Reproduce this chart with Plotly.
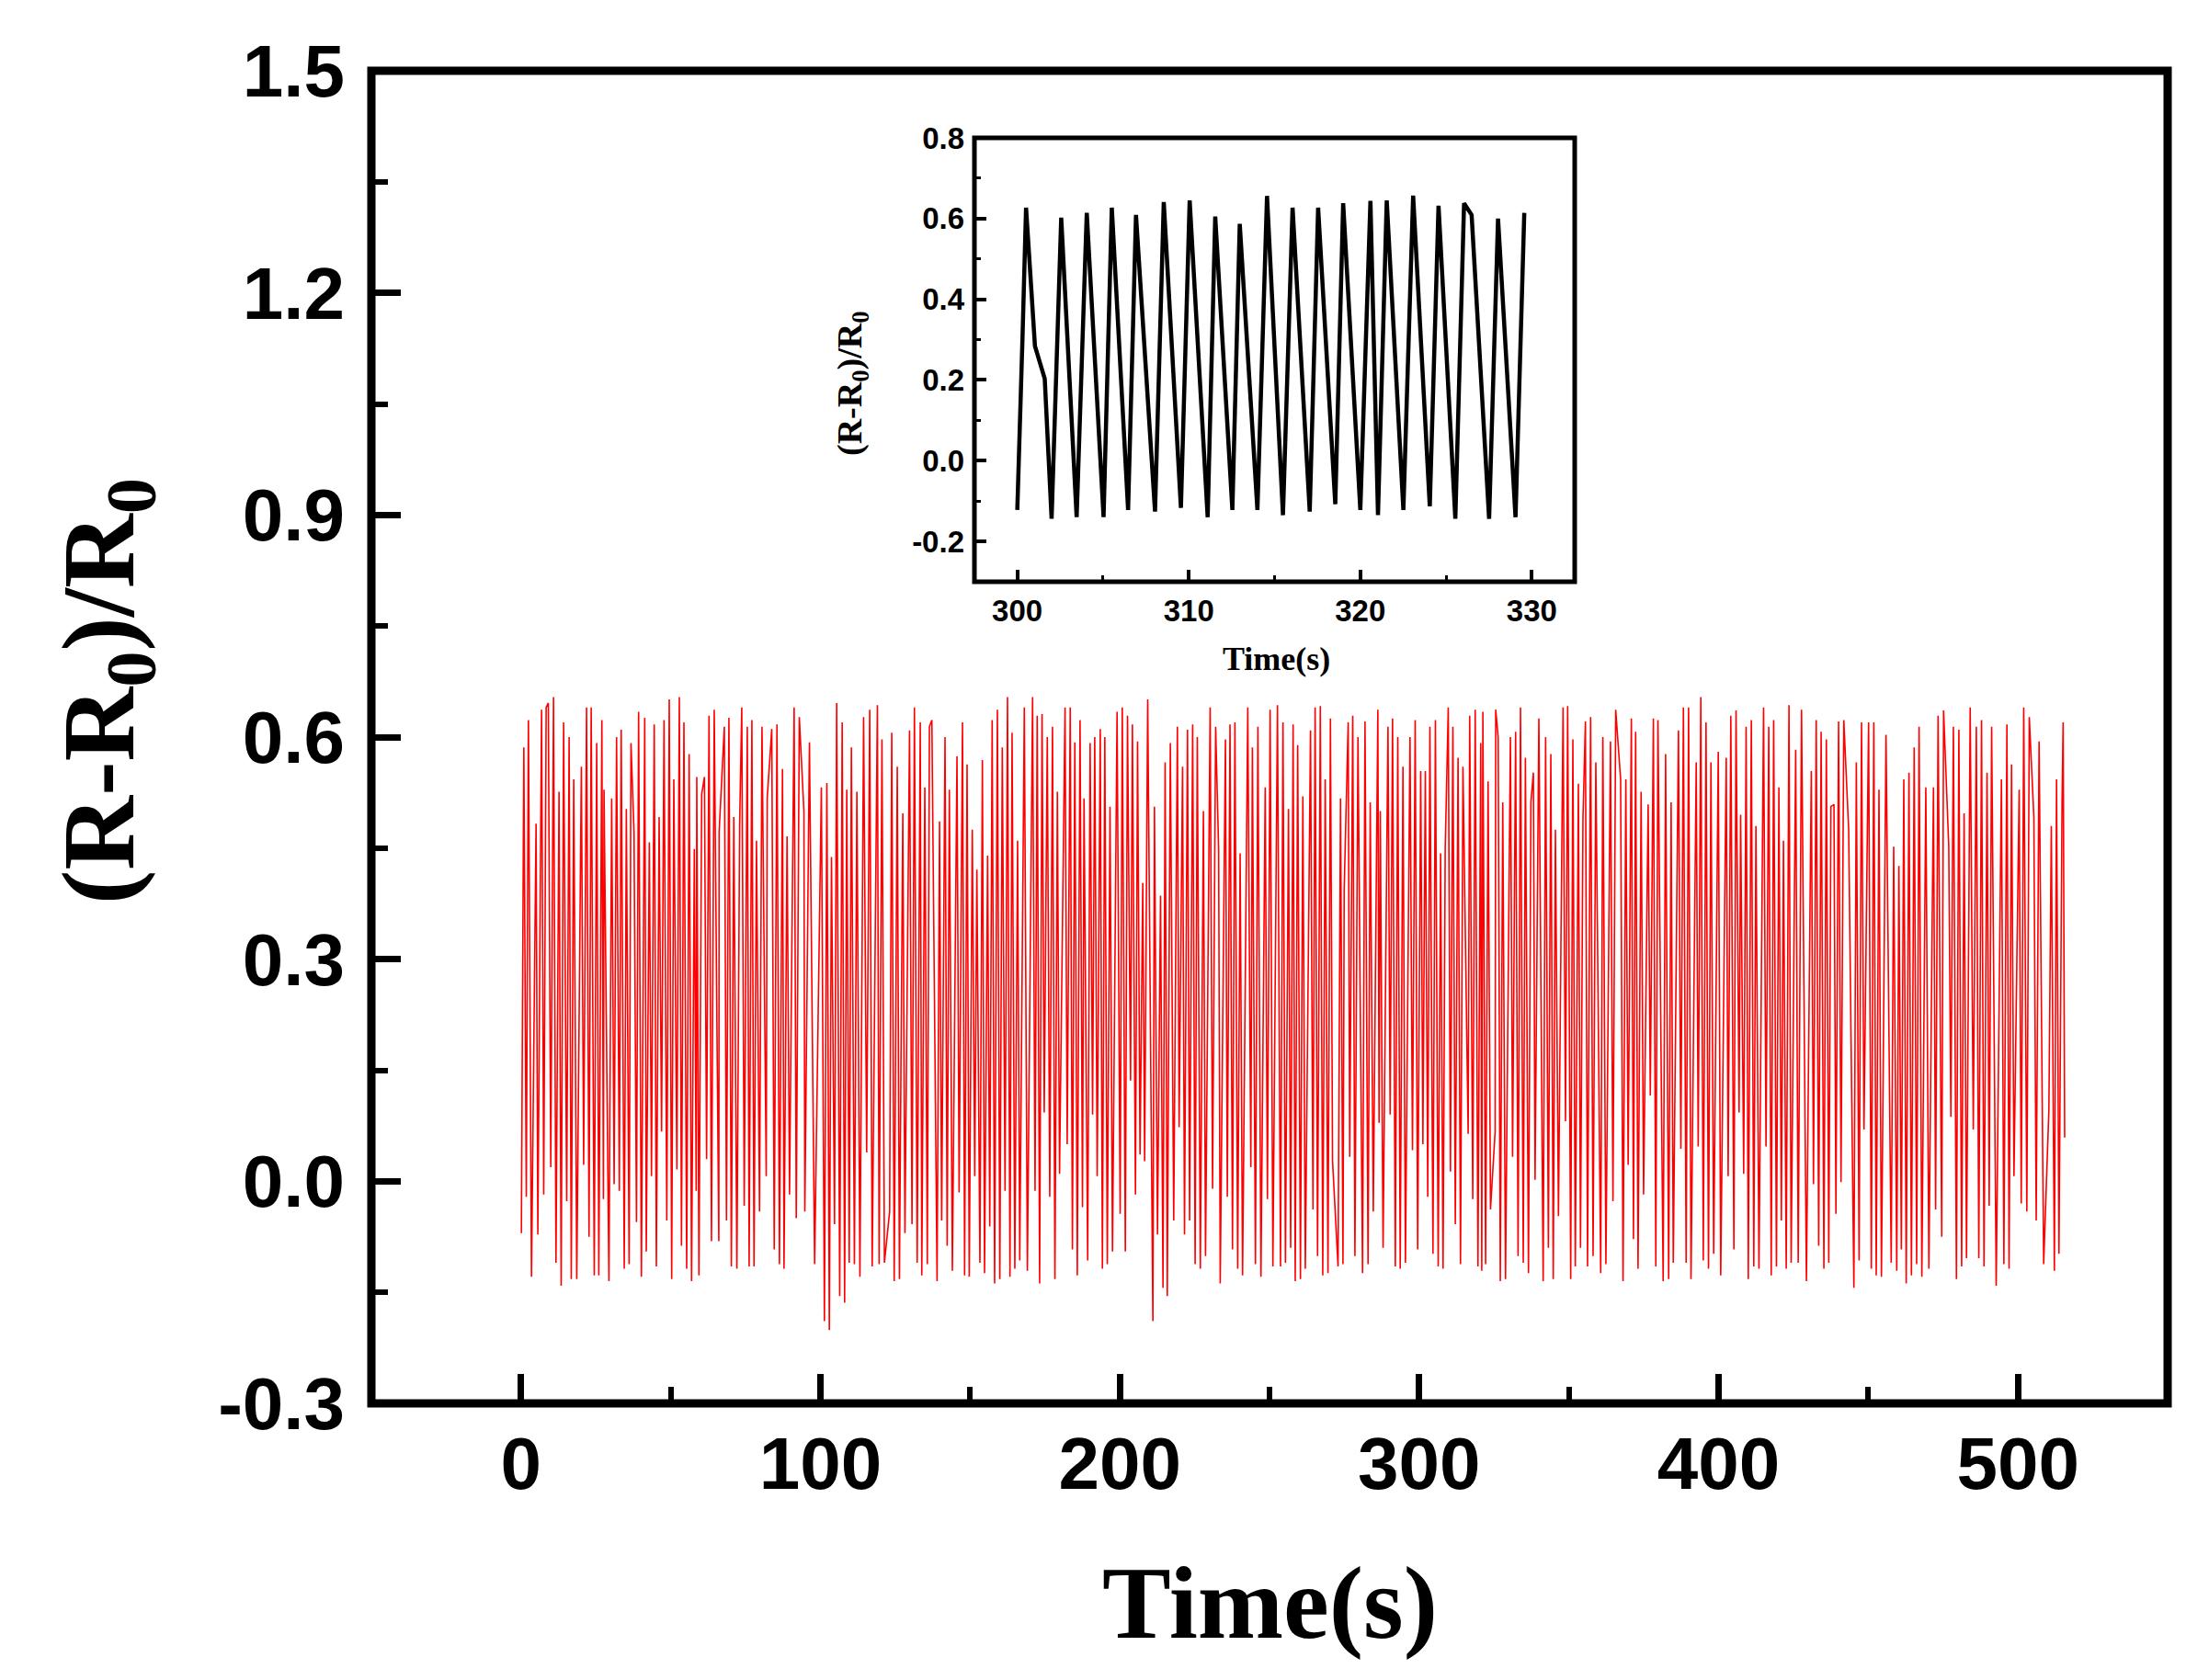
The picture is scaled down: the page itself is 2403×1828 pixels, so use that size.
import plotly.graph_objects as go

# ---------------- data ----------------
# main trace: (time s, (R-R0)/R0) at the visible upper and lower turning points
peaks_0_130 = [(0.92,0.586),(2.45,0.623),(5.01,0.483),(6.85,0.637),(8.38,0.640),(9.10,0.646),(10.84,0.654),(12.68,0.526),(14.21,0.620),(16.05,0.600),(17.59,0.543),(20.14,0.560),(21.88,0.640),(23.42,0.640),(25.26,0.592),(26.99,0.623),(27.71,0.529),(30.27,0.517),(31.90,0.600),(33.44,0.610),(35.17,0.503),(36.71,0.592),(37.73,0.472),(39.26,0.634),(41.31,0.626),(42.84,0.458),(44.48,0.617),(46.11,0.492),(47.75,0.623),(49.49,0.651),(51.02,0.543),(52.86,0.654),(54.40,0.620),(56.14,0.577),(57.87,0.449),(58.69,0.546),(60.33,0.523),(61.25,0.546),(62.78,0.629),(64.52,0.637),(66.16,0.472),(67.89,0.614),(69.43,0.626),(71.06,0.492),(73.01,0.483),(73.72,0.640),(75.56,0.614),(77.10,0.623),(78.63,0.460),(80.47,0.614),(82.21,0.517),(83.74,0.611),(85.48,0.617),(87.32,0.557),(88.85,0.466),(91.21,0.640),(92.94,0.627),(94.48,0.500),(96.32,0.593),(100.31,0.532),(102.15,0.538),(103.68,0.438),(105.42,0.646),(107.26,0.620),(108.79,0.529),(110.33,0.586),(112.17,0.526),(114.42,0.627),(116.46,0.637),(119.02,0.643),(120.55,0.597),(123.82,0.606),(125.66,0.560),(127.51,0.497)]
troughs_0_130 = [(0.10,-0.070),(1.74,-0.021),(3.48,-0.129),(5.60,-0.072),(7.57,-0.018),(9.92,0.019),(11.66,-0.110),(13.39,-0.141),(15.24,-0.027),(16.77,-0.132),(18.61,-0.132),(20.90,0.022),(22.70,-0.075),(24.44,-0.127),(25.97,-0.127),(27.50,-0.024),(29.35,-0.135),(31.08,-0.004),(32.82,-0.013),(34.46,-0.118),(36.09,-0.112),(38.55,-0.055),(40.19,-0.129),(41.82,-0.095),(43.56,0.007),(45.19,-0.115),(46.93,0.067),(48.67,-0.053),(50.31,-0.132),(52.05,0.016),(53.58,-0.087),(55.32,-0.118),(56.95,-0.135),(58.49,-0.013),(59.41,-0.127),(61.96,0.030),(63.60,-0.081),(66.05,-0.081),(68.61,-0.053),(70.24,-0.115),(72.09,-0.118),(74.54,-0.033),(76.18,-0.115),(77.81,-0.115),(79.65,-0.041),(81.90,0.007),(84.56,-0.092),(86.30,-0.112),(87.83,-0.118),(89.67,-0.018),(91.92,-0.050),(94.79,-0.041),(98.06,-0.112),(101.33,-0.189),(102.97,-0.201),(104.70,-0.058),(106.44,-0.155),(108.08,-0.164),(109.61,-0.110),(111.35,-0.112),(113.19,-0.129),(115.44,0.039),(117.28,-0.115),(119.60,-0.112),(121.37,-0.110),(123.11,-0.041),(124.64,-0.135),(126.38,-0.132),(128.22,-0.070)]
peaks_130_258 = [(129.76,0.609),(131.39,0.640),(133.34,0.620),(134.87,0.532),(136.40,0.614),(137.22,0.623),(139.78,0.486),(141.62,0.600),(143.05,0.529),(145.61,0.574),(147.45,0.620),(148.98,0.563),(150.72,0.475),(152.25,0.421),(154.09,0.569),(155.83,0.440),(157.36,0.623),(159.10,0.637),(160.74,0.586),(162.48,0.654),(164.01,0.606),(165.85,0.460),(168.10,0.640),(170.86,0.654),(172.40,0.629),(174.03,0.631),(175.77,0.600),(177.51,0.614),(179.14,0.526),(181.70,0.640),(183.44,0.640),(184.97,0.593),(186.71,0.623),(188.04,0.517),(190.08,0.592),(191.62,0.600),(193.46,0.611),(194.99,0.600),(196.73,0.506),(199.08,0.634),(200.82,0.640),(202.56,0.629),(204.20,0.617),(205.93,0.594),(207.67,0.403),(209.31,0.651),(211.56,0.506),(213.60,0.386),(215.14,0.566),(216.87,0.592),(219.23,0.614),(220.96,0.560),(222.60,0.610),(224.34,0.617),(225.87,0.600),(227.92,0.500),(230.17,0.640),(232.01,0.614),(233.00,0.449),(235.28,0.597),(236.81,0.617),(238.45,0.620),(240.19,0.443),(242.74,0.640),(244.28,0.586),(246.12,0.614),(248.57,0.532),(250.21,0.637),(252.66,0.643),(254.50,0.620),(256.34,0.503),(257.88,0.617)]
troughs_130_258 = [(130.58,-0.058),(132.31,-0.110),(133.85,-0.127),(135.69,-0.112),(138.96,-0.135),(140.49,-0.053),(142.33,-0.087),(144.07,-0.121),(146.32,-0.015),(148.16,-0.127),(149.70,-0.129),(151.54,0.007),(153.27,-0.110),(154.81,-0.124),(156.55,-0.061),(158.18,-0.138),(159.92,-0.132),(161.66,-0.013),(163.30,-0.129),(164.93,-0.118),(166.57,-0.107),(169.12,-0.121),(171.68,-0.013),(173.21,-0.138),(174.75,0.093),(176.59,-0.021),(178.33,-0.132),(179.86,0.010),(182.42,0.050),(184.16,-0.092),(185.79,-0.127),(187.53,-0.035),(189.27,-0.107),(190.90,0.090),(192.44,0.007),(194.18,-0.118),(195.81,-0.112),(197.55,-0.095),(200.11,-0.044),(201.84,-0.095),(203.58,0.136),(205.22,-0.018),(206.75,0.036),(208.29,0.027),(211.05,-0.189),(212.58,-0.072),(214.42,-0.144),(215.85,-0.155),(218.00,-0.053),(219.80,0.073),(221.60,-0.072),(223.31,-0.053),(225.16,-0.112),(226.89,-0.118),(228.63,-0.101),(230.98,-0.010),(233.54,-0.138),(235.90,-0.021),(237.63,-0.092),(239.37,-0.118),(241.00,-0.127),(243.76,0.019),(245.30,-0.112),(247.14,-0.129),(249.30,-0.024),(251.13,-0.115),(253.68,-0.115),(255.32,-0.110),(257.06,-0.090)]
peaks_258_387 = [(259.41,0.589),(261.14,0.520),(263.70,0.609),(265.23,0.640),(266.97,0.642),(268.61,0.543),(270.35,0.625),(273.72,0.517),(274.95,0.395),(276.28,0.620),(277.81,0.629),(279.55,0.600),(281.90,0.621),(283.64,0.512),(286.19,0.637),(287.01,0.500),(289.57,0.614),(291.10,0.625),(292.84,0.600),(294.58,0.560),(296.93,0.600),(298.67,0.623),(300.51,0.554),(302.04,0.554),(303.58,0.614),(305.42,0.623),(307.16,0.443),(308.69,0.449),(309.71,0.640),(311.25,0.614),(312.98,0.572),(314.62,0.560),(316.87,0.629),(318.71,0.637),(320.55,0.592),(321.27,0.634),(323.01,0.540),(325.56,0.637),(326.38,0.600),(327.91,0.512),(330.47,0.600),(332.21,0.607),(333.84,0.640),(335.48,0.572),(337.32,0.512),(338.14,0.552),(339.98,0.625),(342.23,0.600),(343.97,0.577),(345.50,0.475),(348.06,0.640),(349.59,0.642),(351.33,0.597),(353.17,0.537),(354.70,0.489),(355.52,0.621),(357.26,0.627),(359.00,0.566),(361.35,0.600),(363.90,0.594),(365.64,0.637),(367.28,0.543),(369.02,0.543),(370.86,0.625),(372.29,0.607),(374.13,0.526),(376.48,0.509),(378.22,0.625),(379.75,0.623),(382.31,0.577),(384.15,0.512),(386.60,0.609)]
troughs_258_387 = [(258.59,-0.135),(260.33,-0.132),(261.96,-0.118),(264.52,-0.038),(266.05,-0.101),(267.79,-0.127),(269.53,-0.124),(271.06,0.027),(272.90,-0.115),(274.54,-0.112),(276.79,0.033),(278.53,-0.101),(281.08,-0.124),(282.92,-0.112),(284.66,-0.041),(286.60,0.079),(287.93,-0.090),(290.30,0.090),(292.02,-0.115),(293.66,-0.118),(295.40,-0.110),(297.75,0.042),(299.49,-0.092),(301.23,0.050),(302.86,-0.021),(304.60,-0.098),(306.34,-0.115),(307.97,-0.118),(310.43,0.013),(312.06,-0.058),(313.80,-0.112),(316.36,0.064),(317.89,-0.024),(319.63,-0.115),(320.90,-0.121),(322.19,-0.112),(323.82,-0.038),(325.36,0.067),(327.09,-0.135),(328.83,-0.132),(331.20,0.033),(333.03,-0.101),(334.76,-0.110),(336.50,-0.124),(338.70,0.002),(341.41,-0.135),(343.15,-0.090),(344.78,-0.132),(346.52,-0.047),(348.87,0.081),(350.61,-0.132),(352.14,-0.115),(353.88,-0.090),(356.23,-0.115),(358.08,-0.101),(360.63,-0.124),(362.37,-0.112),(364.72,-0.027),(368.10,-0.135),(369.80,0.022),(371.57,-0.078),(373.10,-0.118),(374.95,-0.018),(377.20,0.116),(379.04,-0.115),(381.49,-0.135),(383.33,-0.132),(384.87,-0.110),(387.40,0.044)]
peaks_387_516 = [(388.25,0.640),(389.98,0.640),(392.54,0.566),(394.07,0.654),(395.81,0.620),(397.45,0.566),(399.90,0.580),(402.56,0.572),(404.09,0.629),(405.83,0.636),(407.37,0.495),(409.21,0.614),(410.94,0.623),(412.48,0.480),(415.03,0.640),(416.77,0.614),(418.41,0.623),(420.15,0.532),(421.68,0.460),(423.52,0.643),(425.77,0.583),(427.71,0.637),(430.98,0.554),(432.62,0.623),(434.26,0.607),(436.00,0.597),(437.53,0.506),(438.55,0.509),(440.09,0.621),(441.83,0.623),(443.46,0.475),(446.02,0.566),(447.75,0.620),(450.11,0.620),(451.85,0.620),(453.58,0.529),(455.93,0.603),(458.49,0.452),(460.23,0.426),(461.87,0.543),(463.60,0.552),(465.34,0.586),(466.98,0.614),(469.23,0.532),(471.78,0.532),(473.32,0.629),(475.16,0.636),(476.89,0.452),(478.43,0.614),(480.27,0.610),(482.01,0.497),(484.05,0.640),(486.10,0.614),(487.84,0.623),(489.68,0.552),(491.21,0.614),(494.48,0.543),(496.32,0.617),(497.86,0.563),(500.41,0.529),(501.94,0.640),(503.79,0.627),(505.32,0.492),(507.06,0.594),(511.15,0.480),(512.89,0.543),(514.73,0.512),(515.10,0.620)]
troughs_387_516 = [(389.17,-0.110),(390.80,-0.132),(393.20,0.047),(394.89,-0.107),(396.63,-0.118),(398.37,-0.098),(400.72,-0.127),(403.20,0.007),(405.12,-0.092),(406.85,0.093),(408.39,0.010),(409.92,-0.132),(411.76,-0.115),(413.50,-0.118),(415.85,0.047),(417.59,-0.127),(419.33,-0.115),(420.97,-0.053),(422.60,-0.118),(424.24,-0.110),(426.60,-0.110),(429.35,-0.135),(431.70,-0.004),(433.44,-0.087),(435.18,-0.118),(436.81,-0.110),(439.20,-0.044),(440.90,-0.001),(445.20,-0.144),(446.94,-0.107),(448.57,0.070),(451.03,-0.118),(452.66,-0.127),(454.40,-0.129),(457.67,-0.110),(459.52,-0.121),(461.05,-0.092),(462.68,-0.138),(464.42,-0.127),(466.16,-0.112),(467.90,-0.129),(470.25,-0.118),(472.50,-0.038),(474.54,-0.075),(477.60,0.087),(479.45,-0.132),(481.19,-0.115),(482.82,-0.104),(485.08,0.070),(486.92,-0.104),(488.66,-0.115),(490.39,-0.033),(492.74,-0.141),(495.30,-0.112),(497.04,-0.118),(498.67,0.007),(501.10,-0.030),(502.97,-0.041),(506.10,-0.053),(508.59,-0.112),(510.33,0.096),(512.17,-0.121),(513.70,-0.098),(515.60,0.059)]

# inset trace (300-330 s)
inset_time = [300.0, 300.12, 300.3, 300.51, 300.75, 301.03, 301.6, 302.0, 302.56, 303.46, 304.05, 305.03, 305.51, 306.46, 306.92, 308.03, 308.54, 309.54, 310.05, 311.10, 311.54, 312.54, 312.97, 314.0, 314.56, 315.49, 316.05, 317.05, 317.54, 318.54, 319.0, 320.0, 320.59, 321.03, 321.54, 322.51, 323.08, 324.05, 324.56, 325.54, 326.05, 326.49, 327.51, 328.03, 329.05, 329.56]
inset_value = [-0.122, 0.08, 0.30, 0.627, 0.45, 0.284, 0.203, -0.144, 0.602, -0.140, 0.614, -0.140, 0.627, -0.122, 0.609, -0.126, 0.641, -0.117, 0.645, -0.140, 0.605, -0.122, 0.587, -0.122, 0.656, -0.135, 0.627, -0.126, 0.627, -0.108, 0.638, -0.122, 0.644, -0.135, 0.645, -0.122, 0.657, -0.113, 0.632, -0.144, 0.638, 0.609, -0.144, 0.600, -0.140, 0.614]

main_x_ticks = [0, 100, 200, 300, 400, 500]
main_y_ticks = [-0.3, 0.0, 0.3, 0.6, 0.9, 1.2, 1.5]
main_y_labels = ["-0.3", "0.0", "0.3", "0.6", "0.9", "1.2", "1.5"]
inset_x_ticks = [300, 310, 320, 330]
inset_y_ticks = [-0.2, 0.0, 0.2, 0.4, 0.6, 0.8]
inset_y_labels = ["-0.2", "0.0", "0.2", "0.4", "0.6", "0.8"]

# ---------------- build series ----------------
points = sorted(peaks_0_130 + troughs_0_130 + peaks_130_258 + troughs_130_258 +
                peaks_258_387 + troughs_258_387 + peaks_387_516 + troughs_387_516)
main_t = [p[0] for p in points]
main_v = [p[1] for p in points]

# ---------------- geometry (page pixels) ----------------
W, H = 2403, 1828
PAD = 8                         # default body margin of the page
FL, FR, FT, FB = 404, 2358, 77, 1527   # main frame centre lines
fig_w, fig_h = W - 2 * PAD, H - 2 * PAD

def px(xp):
    return (xp - FL) / (FR - FL)

def py(yp):
    return (FB - yp) / (FB - FT)

IL, IR, IT, IB = 1060, 1713, 150, 633  # inset frame

SANS = "Liberation Sans"
SERIF = "Liberation Serif"

fig = go.Figure()
fig.add_trace(go.Scatter(x=main_t, y=main_v, mode="lines",
                         line=dict(color="#ff0000", width=1.6),
                         xaxis="x", yaxis="y", showlegend=False))
fig.add_trace(go.Scatter(x=inset_time, y=inset_value, mode="lines",
                         line=dict(color="black", width=4.5),
                         xaxis="x2", yaxis="y2", showlegend=False))

fig.update_layout(
    width=fig_w, height=fig_h,
    margin=dict(l=FL - PAD, r=fig_w - (FR - PAD), t=FT - PAD, b=fig_h - (FB - PAD), pad=0),
    paper_bgcolor="white", plot_bgcolor="white",
    xaxis=dict(domain=[0, 1], range=[-50, 550], tickvals=main_x_ticks,
               ticks="inside", ticklen=32, tickwidth=7, tickcolor="black",
               minor=dict(dtick=50, tick0=0, ticks="inside", ticklen=18, tickwidth=6, tickcolor="black"),
               showgrid=False, zeroline=False, showline=False,
               tickfont=dict(family=SANS, size=80, color="black", weight="bold"),
               ticklabelstandoff=12),
    yaxis=dict(domain=[0, 1], range=[-0.3, 1.5], tickvals=main_y_ticks, ticktext=main_y_labels,
               ticks="inside", ticklen=32, tickwidth=7, tickcolor="black",
               minor=dict(dtick=0.15, tick0=0, ticks="inside", ticklen=18, tickwidth=6, tickcolor="black"),
               showgrid=False, zeroline=False, showline=False,
               tickfont=dict(family=SANS, size=80, color="black", weight="bold"),
               ticklabelstandoff=28),
    xaxis2=dict(domain=[px(IL), px(IR)], anchor="y2", range=[297.5, 332.5], tickvals=inset_x_ticks,
                ticks="inside", ticklen=13, tickwidth=4, tickcolor="black",
                minor=dict(dtick=5, tick0=300, ticks="inside", ticklen=7, tickwidth=3, tickcolor="black"),
                showgrid=False, zeroline=False, showline=False,
                tickfont=dict(family=SANS, size=33, color="black", weight="bold"),
                ticklabelstandoff=9),
    yaxis2=dict(domain=[py(IB), py(IT)], anchor="x2", range=[-0.3, 0.8], tickvals=inset_y_ticks,
                ticktext=inset_y_labels,
                ticks="inside", ticklen=13, tickwidth=4, tickcolor="black",
                minor=dict(dtick=0.1, tick0=0, ticks="inside", ticklen=7, tickwidth=3, tickcolor="black"),
                showgrid=False, zeroline=False, showline=False,
                tickfont=dict(family=SANS, size=33, color="black", weight="bold"),
                ticklabelstandoff=10),
    shapes=[
        dict(type="rect", xref="paper", yref="paper", x0=0, x1=1, y0=0, y1=1,
             line=dict(color="black", width=9), layer="above"),
        dict(type="rect", xref="paper", yref="paper", x0=px(IL), x1=px(IR), y0=py(IB), y1=py(IT),
             line=dict(color="black", width=5), layer="above"),
    ],
    annotations=[
        dict(text="<b>Time(s)</b>", xref="paper", yref="paper", x=px(1381), y=py(1744),
             xanchor="center", yanchor="middle", showarrow=False,
             font=dict(family=SERIF, size=112, color="black")),
        dict(text="<b>(R-R<sub>0</sub>)/R<sub>0</sub></b>", xref="paper", yref="paper",
             x=px(115), y=py(752), xanchor="center", yanchor="middle", showarrow=False,
             textangle=-90, font=dict(family=SERIF, size=112, color="black")),
        dict(text="<b>Time(s)</b>", xref="paper", yref="paper", x=px(1388), y=py(717),
             xanchor="center", yanchor="middle", showarrow=False,
             font=dict(family=SERIF, size=36, color="black")),
        dict(text="<b>(R-R<sub>0</sub>)/R<sub>0</sub></b>", xref="paper", yref="paper",
             x=px(927), y=py(418), xanchor="center", yanchor="middle", showarrow=False,
             textangle=-90, font=dict(family=SERIF, size=38, color="black")),
    ],
)

fig.write_html("out.html")
